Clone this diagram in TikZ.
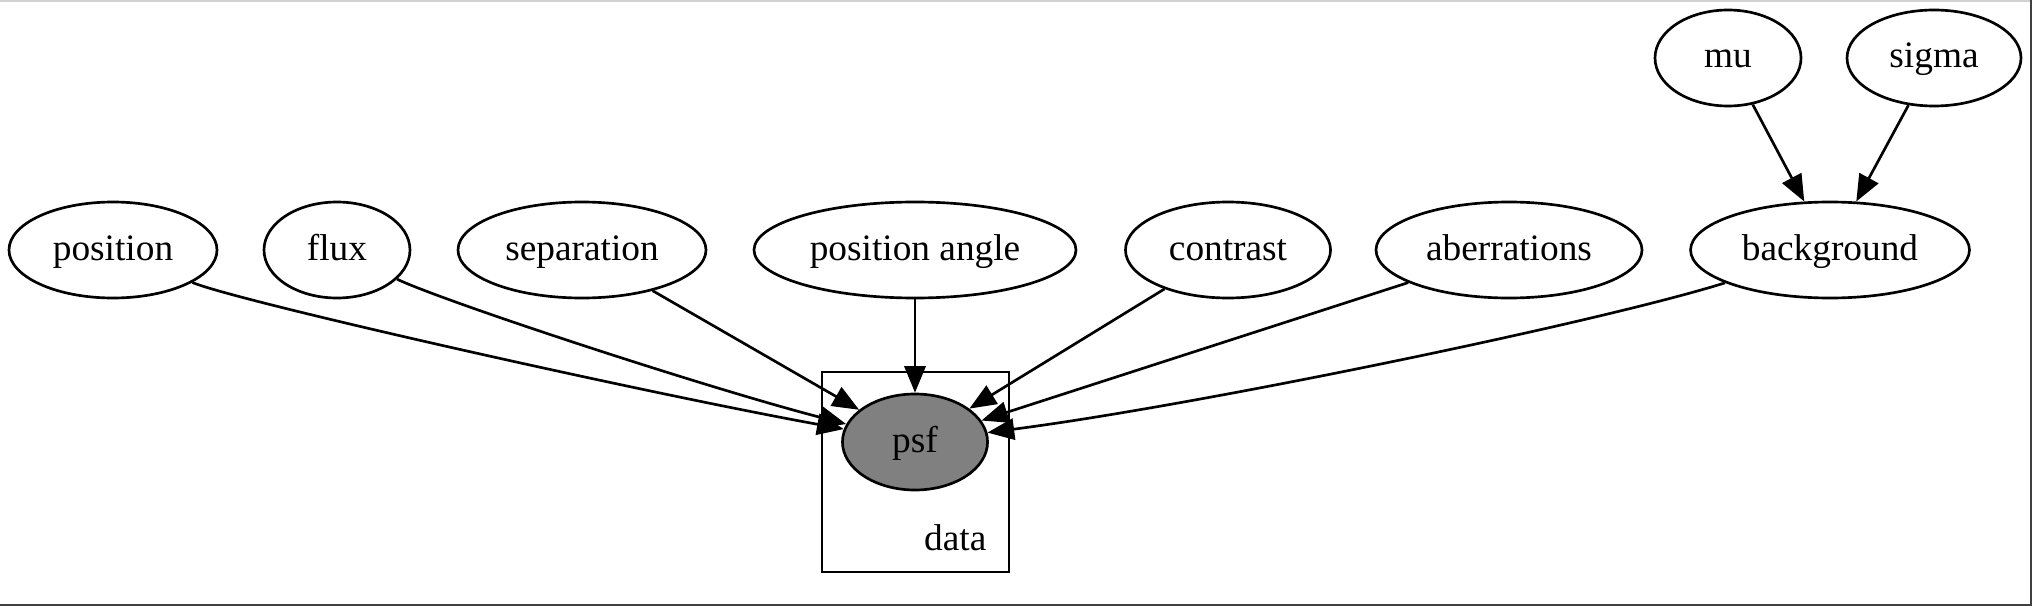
\documentclass[tikz,border=0pt]{standalone}
\usepackage{fontspec}
\setmainfont{Liberation Serif}
\usetikzlibrary{arrows.meta}
\usetikzlibrary{shapes.geometric}

\begin{document}
\begin{tikzpicture}[x=0.375pt, y=-0.375pt, line width=1pt,
    every node/.style={font=\fontsize{14}{16}\selectfont},
    rv/.style={draw, ellipse, inner sep=0, minimum height=36pt,
        text height=10.5pt, text depth=3pt},
    observed/.style={rv, fill=gray},
    link/.style={-{Triangle[length=10pt, width=8pt]}}]
    \newcommand\rowy{250}
    \newcommand\hyperrowy{58}

    \useasboundingbox (0, 0) rectangle (2032, 606);
    \draw[gray!35, line width=0.4pt] (0, 1) -- (2032, 1);
    \draw[black!75, line width=0.75pt] (2030.5, 0) -- (2030.5, 604.5) -- (0, 604.5);

    % plate
    \draw (822, 372) coordinate (plate-nw) rectangle
        (1009, 572) coordinate (plate-se);
    \node[anchor=base east, inner sep=0, xshift=-8pt, yshift=8pt] (plate-label) at (plate-se) {data};

    % parameters
    \node[rv, minimum width=78pt] (position) at (113, \rowy) {position};
    \node[rv, minimum width=54.75pt] (flux) at (337, \rowy) {flux};
    \node[rv, minimum width=93pt] (separation) at (582, \rowy) {separation};
    \node[rv, minimum width=120.75pt] (position-angle) at (915, \rowy) {position angle};
    \node[rv, minimum width=76.9pt] (contrast) at (1228, \rowy) {contrast};
    \node[rv, minimum width=99.75pt] (aberrations) at (1509, \rowy) {aberrations};
    \node[rv, minimum width=104.6pt] (background) at (1830, \rowy) {background};

    \node[rv, minimum width=54.75pt] (mu) at (1728, \hyperrowy) {mu};
    \node[rv, minimum width=65.25pt] (sigma) at (1934, \hyperrowy) {sigma};

    \node[observed, minimum width=54.4pt] (psf) at (915, 442) {psf};

    \draw[link] (mu) -- (background);
    \draw[link] (sigma) -- (background);

    \draw[link] (position) .. controls (240, 302) and (640, 392) .. (psf);
    \draw[link] (flux) .. controls (440, 300) and (700, 386) .. (psf);
    \draw[link] (separation) -- (psf);
    \draw[link] (position-angle) -- (psf);
    \draw[link] (contrast) -- (psf);
    \draw[link] (aberrations) -- (psf);
    \draw[link] (background) .. controls (1600, 322) and (1200, 405) .. (psf);
\end{tikzpicture}
\end{document}
